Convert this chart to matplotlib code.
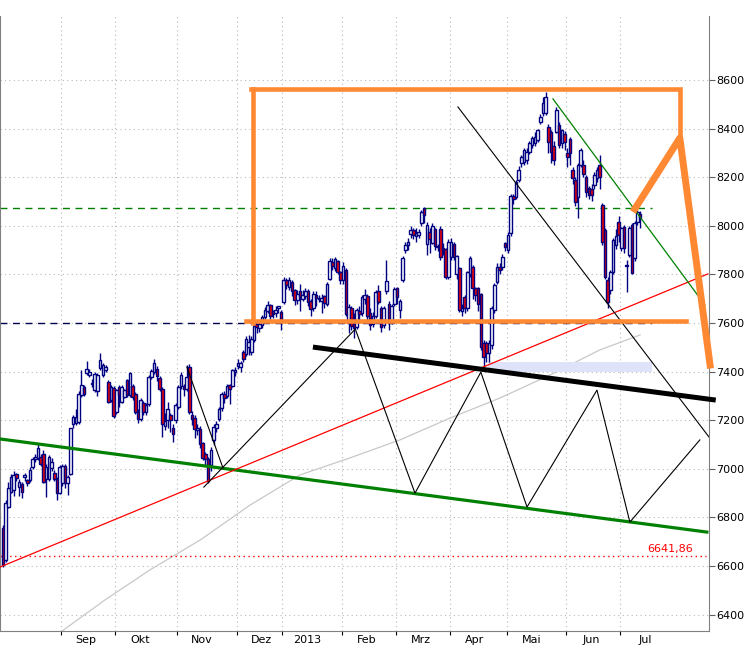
import numpy as np
import matplotlib.pyplot as plt

# DAX daily candles, Aug 2012 - Jul 2013 (x = trading day index)
opens = [6756, 6625, 6845, 6906, 6912, 6977, 6926, 6937, 6965, 6954, 6954, 7009, 7039, 7043, 7050, 7063, 6960, 6960, 7002, 6985, 6960, 6900,
         6940, 7012, 6940, 6980, 7184, 7188, 7194, 7304, 7338, 7393, 7386, 7350, 7324, 7322, 7413, 7386, 7408, 7358, 7283, 7331,
         7235, 7338, 7276, 7297, 7365, 7304, 7340, 7310, 7235, 7206, 7270, 7232, 7265, 7378, 7400, 7410, 7372, 7330, 7175, 7200, 7220, 7170, 7200,
         7255, 7340, 7340, 7330, 7420, 7220, 7210, 7160, 7166, 7105, 7063, 7042, 7015, 7120, 7170, 7207, 7250, 7310, 7300, 7344, 7340, 7400,
         7423, 7420, 7481, 7474, 7500, 7482, 7530, 7598, 7580, 7590, 7626, 7650, 7674, 7650, 7640, 7660, 7646,
         7687, 7777, 7750, 7770, 7735, 7695, 7730, 7700, 7710, 7730, 7690, 7660, 7715, 7700, 7690, 7710, 7680, 7780, 7852, 7825, 7855, 7811,
         7776, 7818, 7600, 7660, 7600, 7585, 7650, 7640, 7700, 7710, 7640, 7595, 7630, 7730, 7660, 7590, 7730, 7680, 7610, 7680,
         7742, 7655, 7777, 7900, 7920, 7966, 7983, 7960, 7962, 8010, 8072, 7925, 7975, 7930, 7985, 7915, 7985, 7907, 7903, 7790,
         7870, 7925, 7800, 7825, 7650, 7708, 7660, 7800, 7832, 7742, 7742, 7720, 7516, 7516, 7475, 7509, 7653, 7770, 7832, 7832, 7928,
         7900, 7969, 8122, 8120, 8189, 8257, 8262, 8270, 8305, 8332, 8339, 8353, 8428, 8462, 8462, 8408, 8387, 8330, 8387, 8414, 8339, 8376,
         8298, 8359, 8229, 8188, 8119, 8250, 8252, 8202, 8154, 8150, 8167, 8195, 8250, 8085, 7982, 7776, 7735, 7810, 7920, 8016,
         7907, 7996, 7840, 7880, 8003, 7866, 8016, 8050]
highs = [6770, 6870, 6945, 6980, 6990, 6985, 6960, 6945, 6985, 6960, 7008, 7050, 7060, 7102, 7060, 7077, 7020, 7055, 7045, 6995, 6965, 7015,
         7020, 7020, 6975, 7170, 7220, 7248, 7320, 7406, 7345, 7445, 7410, 7368, 7398, 7395, 7475, 7435, 7428, 7365, 7345, 7340,
         7330, 7345, 7345, 7330, 7370, 7400, 7350, 7318, 7245, 7290, 7280, 7270, 7385, 7410, 7450, 7425, 7380, 7335, 7230, 7275, 7230, 7185, 7270,
         7345, 7400, 7350, 7427, 7430, 7240, 7220, 7185, 7175, 7110, 7070, 7050, 7090, 7185, 7195, 7255, 7315, 7320, 7350, 7350, 7410, 7420,
         7450, 7445, 7490, 7545, 7550, 7545, 7600, 7610, 7612, 7635, 7665, 7690, 7680, 7655, 7670, 7672, 7652,
         7790, 7785, 7790, 7775, 7740, 7735, 7760, 7735, 7745, 7740, 7700, 7730, 7730, 7715, 7720, 7715, 7770, 7866, 7866, 7872, 7860, 7815,
         7850, 7825, 7680, 7672, 7640, 7660, 7670, 7715, 7740, 7720, 7660, 7645, 7735, 7755, 7670, 7670, 7859, 7690, 7680, 7750,
         7750, 7700, 7875, 7935, 7950, 8000, 7990, 7990, 7985, 8065, 8076, 8015, 7990, 8010, 7990, 7925, 8000, 7930, 7910, 7945,
         7950, 7935, 7880, 7830, 7680, 7715, 7815, 7875, 7840, 7750, 7750, 7725, 7530, 7525, 7530, 7670, 7765, 7845, 7845, 7885, 7935,
         7975, 8130, 8130, 8190, 8245, 8290, 8320, 8320, 8350, 8370, 8385, 8400, 8460, 8530, 8552, 8420, 8395, 8350, 8490, 8425, 8400, 8390,
         8320, 8365, 8240, 8200, 8260, 8320, 8270, 8210, 8165, 8170, 8220, 8240, 8291, 8095, 7990, 7790, 7820, 7950, 7985, 8040,
         7995, 8005, 7860, 8000, 8010, 8020, 8065, 8060]
lows = [6597, 6615, 6840, 6900, 6890, 6950, 6888, 6882, 6950, 6930, 6945, 7000, 7030, 7035, 7010, 6940, 6885, 6950, 6990, 6950, 6872, 6895,
        6930, 6920, 6892, 6975, 7170, 7180, 7185, 7295, 7300, 7386, 7378, 7338, 7316, 7300, 7405, 7378, 7400, 7270, 7275, 7210,
        7225, 7255, 7270, 7290, 7295, 7295, 7285, 7225, 7190, 7195, 7222, 7220, 7260, 7370, 7390, 7360, 7320, 7130, 7160, 7170, 7150, 7110, 7190,
        7245, 7330, 7300, 7320, 7225, 7180, 7125, 7140, 7085, 7035, 7010, 6940, 6990, 7100, 7150, 7195, 7240, 7270, 7290, 7265, 7335, 7380,
        7410, 7400, 7440, 7465, 7470, 7470, 7520, 7560, 7565, 7580, 7615, 7640, 7615, 7620, 7625, 7640, 7570,
        7680, 7740, 7735, 7710, 7675, 7680, 7650, 7690, 7700, 7670, 7630, 7650, 7670, 7685, 7640, 7660, 7670, 7775, 7820, 7815, 7800, 7760,
        7760, 7630, 7560, 7570, 7540, 7575, 7610, 7630, 7680, 7600, 7570, 7585, 7620, 7680, 7565, 7580, 7720, 7570, 7595, 7670,
        7680, 7620, 7770, 7890, 7900, 7950, 7945, 7935, 7950, 8000, 8010, 7880, 7890, 7925, 7900, 7895, 7860, 7880, 7780, 7780,
        7860, 7860, 7780, 7645, 7630, 7640, 7650, 7790, 7700, 7690, 7650, 7490, 7420, 7440, 7440, 7495, 7640, 7760, 7800, 7820, 7895,
        7890, 7960, 8090, 8110, 8180, 8240, 8250, 8255, 8295, 8320, 8330, 8345, 8420, 8450, 8455, 8300, 8260, 8250, 8380, 8320, 8320, 8310,
        8240, 8250, 8170, 8080, 8030, 8240, 8200, 8120, 8110, 8100, 8150, 8180, 8150, 7920, 7780, 7660, 7720, 7800, 7905, 7935,
        7895, 7890, 7728, 7870, 7800, 7855, 8005, 7990]
closes = [6606, 6858, 6920, 6967, 6974, 6963, 6947, 6906, 6974, 6943, 6995, 7039, 7050, 7084, 7020, 6947, 7009, 7047, 7030, 6960, 6900, 7009,
          7012, 6940, 6968, 7167, 7212, 7212, 7310, 7345, 7310, 7409, 7400, 7353, 7390, 7386, 7448, 7427, 7420, 7276, 7338, 7217,
          7324, 7304, 7338, 7324, 7304, 7393, 7296, 7235, 7206, 7282, 7232, 7261, 7376, 7401, 7437, 7380, 7329, 7185, 7196, 7248, 7203, 7143, 7261,
          7335, 7385, 7328, 7377, 7232, 7205, 7163, 7169, 7101, 7043, 7042, 6950, 7077, 7172, 7184, 7245, 7309, 7292, 7341, 7330, 7406, 7405,
          7434, 7435, 7454, 7536, 7520, 7536, 7589, 7584, 7596, 7626, 7653, 7674, 7630, 7636, 7655, 7669, 7605,
          7777, 7756, 7776, 7732, 7695, 7720, 7708, 7715, 7733, 7686, 7657, 7718, 7702, 7703, 7704, 7683, 7760, 7857, 7834, 7864, 7810, 7776,
          7833, 7639, 7664, 7587, 7581, 7653, 7636, 7707, 7717, 7629, 7593, 7630, 7728, 7687, 7584, 7661, 7772, 7600, 7669, 7741,
          7708, 7691, 7866, 7921, 7935, 7983, 7963, 7970, 7975, 8058, 8044, 8005, 7945, 7999, 7915, 7912, 7873, 7900, 7790, 7935,
          7935, 7873, 7875, 7653, 7660, 7660, 7811, 7866, 7742, 7715, 7680, 7502, 7461, 7475, 7516, 7660, 7756, 7832, 7818, 7873, 7914,
          7962, 8122, 8110, 8181, 8230, 8284, 8312, 8305, 8339, 8360, 8366, 8394, 8449, 8504, 8531, 8346, 8305, 8270, 8476, 8332, 8394, 8346,
          8284, 8298, 8195, 8099, 8250, 8311, 8215, 8140, 8126, 8126, 8209, 8229, 8202, 7934, 7790, 7687, 7810, 7940, 7960, 7962,
          7989, 7907, 7836, 7989, 7804, 8010, 8058, 8030]

# month boundaries (trading day index) and labels
month_bounds = [21.5, 41.5, 64.5, 86.5, 103.5, 125.5, 145.5, 165.5, 186.5, 208.5, 228.5]
month_names = ['Sep', 'Okt', 'Nov', 'Dez', '2013', 'Feb', 'Mrz', 'Apr', 'Mai', 'Jun', 'Jul']

# 200 day average
ma_x = [21.9, 37.8, 54.4, 73, 91.5, 110, 128.5, 147, 165.6, 184, 202.6, 221, 236]
ma_y = [6333, 6461, 6584, 6707, 6851, 6975, 7045, 7119, 7209, 7291, 7386, 7489, 7551]

# drawn annotations (x index, price)
green_trend = ([-1.1, 260.7], [7123, 6740])
red_trend = ([-1.1, 261.1], [6596, 7802])
green_thin = ([203.7, 260.0], [8522, 7674])
black_diag = ([168.5, 261.5], [8489, 7131])
black_thick = ([114.8, 264.0], [7501, 7283])
zig1 = ([68.1, 81.5], [7419, 7003])
zig2 = ([74.4, 130.5, 152.6, 177.0, 194.1, 220.0, 232.2, 258.1],
        [6925, 7575, 6900, 7398, 6843, 7324, 6781, 7119])
blue_band = (179.6, 240.4, 7398, 7440)
box_top = ([91.9, 250.7, 250.7], [8563, 8563, 8374])
box_left = ([92.6, 92.6], [8563, 7600])
box_bottom = ([90.0, 253.0], [7610, 7610])
forecast = ([234.0, 250.7, 261.9], [8069, 8361, 7427])
level_green = 8073
level_black = 7601
level_red = 6641.86

navy = '#000080'
orange = '#ff8833'

fig = plt.figure(figsize=(7.5, 6.5), dpi=100)
ax = fig.add_axes([0, 19 / 650, 709 / 750, 615 / 650])
ax.set_xlim(-1.1, 261.5)
ax.set_ylim(6333, 8863)

yt = np.arange(6400, 8601, 200)
for y in yt:
    ax.axhline(y, color='#b8b8b8', lw=0.8, ls=(0, (1, 3)), zorder=0)
for b in month_bounds:
    ax.axvline(b, color='#b8b8b8', lw=0.8, ls=(0, (1, 3)), zorder=0)

ax.plot(ma_x, ma_y, color='#c8c8c8', lw=0.9, zorder=1)
ax.add_patch(plt.Rectangle((blue_band[0], blue_band[2]), blue_band[1] - blue_band[0],
                           blue_band[3] - blue_band[2], color='#dfe3fa', lw=0, zorder=1))

ax.plot([-1.1, 240.5], [level_green] * 2, color='green', lw=1, ls=(0, (5, 4)), zorder=2)
ax.plot([-1.1, 240.5], [level_black] * 2, color='#000050', lw=1, ls=(0, (5, 4)), zorder=2)
ax.plot([-1.1, 260.5], [level_red] * 2, color='red', lw=1, ls=(0, (1, 2.5)), zorder=2)
ax.text(255.6, 6670, '6641,86', color='red', fontsize=8, ha='right', va='center')

x = np.arange(len(closes))
o = np.array(opens)
c = np.array(closes)
ax.vlines(x, lows, highs, color=navy, lw=1.0, zorder=3)
up = c >= o
body = np.maximum(np.abs(c - o), 4)
ax.bar(x, body, bottom=np.minimum(o, c), width=0.95, color=np.where(up, 'white', '#ee0000'),
       edgecolor=navy, linewidth=1.0, zorder=4)

ax.plot(*green_trend, color='green', lw=2.3, zorder=5)
ax.plot(*red_trend, color='red', lw=0.9, zorder=5)
ax.plot(*green_thin, color='green', lw=0.9, zorder=5)
ax.plot(*black_diag, color='black', lw=0.8, zorder=5)
ax.plot(*zig1, color='black', lw=0.8, zorder=5)
ax.plot(*zig2, color='black', lw=0.8, zorder=5)
ax.plot(*black_thick, color='black', lw=3.6, zorder=6, clip_on=False, solid_capstyle='butt')

ax.plot(*box_top, color=orange, lw=3.3, zorder=7, solid_joinstyle='miter')
ax.plot(*box_left, color=orange, lw=3.3, zorder=7)
ax.plot(*box_bottom, color=orange, lw=3.3, zorder=7)
ax.plot(*forecast, color=orange, lw=5, zorder=7, clip_on=False)

ax.spines['top'].set_visible(False)
for s in ['left', 'right', 'bottom']:
    ax.spines[s].set_color('#808080')
ax.yaxis.tick_right()
ax.set_yticks(yt)
ax.set_yticklabels([str(v) for v in yt])
ax.tick_params(axis='y', direction='out', length=4, color='#606060', labelsize=8, pad=1)
ax.set_xticks(month_bounds)
ax.set_xticklabels([])
ax.set_xticks([b + 9.3 for b in month_bounds], minor=True)
ax.set_xticklabels(month_names, minor=True)
ax.tick_params(axis='x', which='major', direction='out', length=3, color='black')
ax.tick_params(axis='x', which='minor', length=0, labelsize=8, pad=3)

fig.savefig('out.png', dpi=100)
